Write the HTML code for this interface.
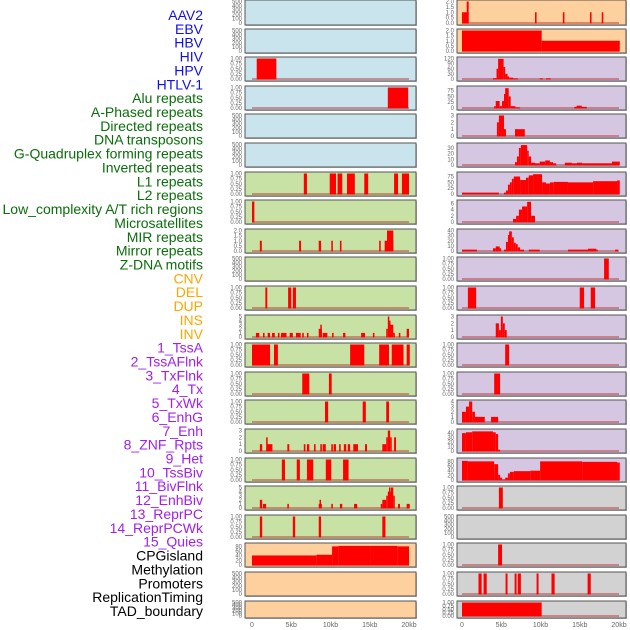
<!DOCTYPE html>
<html><head><meta charset="utf-8"><style>
html,body{margin:0;padding:0;background:#fff;width:630px;height:630px;overflow:hidden}
svg{display:block}
</style></head><body>
<svg id="chart" width="630" height="630" viewBox="0 0 630 630" xmlns="http://www.w3.org/2000/svg">
<g id="labels"></g>
<g id="panels"></g>
</svg>
<script>
const trackLabels = ["AAV2","EBV","HBV","HIV","HPV","HTLV-1","Alu repeats","A-Phased repeats","Directed repeats","DNA transposons","G-Quadruplex forming repeats","Inverted repeats","L1 repeats","L2 repeats","Low_complexity A/T rich regions","Microsatellites","MIR repeats","Mirror repeats","Z-DNA motifs","CNV","DEL","DUP","INS","INV","1_TssA","2_TssAFlnk","3_TxFlnk","4_Tx","5_TxWk","6_EnhG","7_Enh","8_ZNF_Rpts","9_Het","10_TssBiv","11_BivFlnk","12_EnhBiv","13_ReprPC","14_ReprPCWk","15_Quies","CPGisland","Methylation","Promoters","ReplicationTiming","TAD_boundary"];
const labelGroups = [6,13,5,15,5];
const groupColors = ["#1010ee","#0a6e0a","#ffa500","#a020f0","#000000"];
const xTickLabels = ["0","5kb","10kb","15kb","20kb"];
const xTickValues = [0,5,10,15,20];

const T500 = ["0","100","200","300","400","500"];
const T1 = ["0.00","0.25","0.50","0.75","1.00"];
const leftYMax = [500,500,1,1,500,500,1,1,2,500,1,5,1,1,1,3,1,5,1,88,500,500];
const leftTicks = [T500,T500,T1,T1,T500,T500,T1,T1,["0.0","0.5","1.0","1.5","2.0"],T500,T1,["0","1","2","3","4","5"],T1,T1,T1,["0","1","2","3"],T1,["0","1","2","3","4","5"],T1,["0","20","40","60","80"],T500,T500];
const leftBars = [
 [],[],
 [[0.6,3.1,1]],
 [[17.3,19.9,1]],
 [],[],
 [[6.6,7.0,1],[9.9,10.7,1],[10.9,11.5,1],[12.1,13.1,1],[14.3,14.8,1],[18.1,18.6,1],[19.1,20.0,1]],
 [[0,0.3,1]],
 [[1.0,1.25,1],[6.0,6.25,1],[8.5,8.8,1],[10.1,10.3,1],[11.2,11.4,1],[16.2,16.4,1],[16.9,18.0,1],[17.2,18.0,2]],
 [],
 [[1.7,1.95,1],[4.6,5.0,1],[5.2,5.6,1]],
 [[0.5,0.93,1],[1.4,1.6,1],[2.0,2.3,1],[2.55,2.9,1],[3.3,3.5,1],[3.7,4.4,1],[4.8,5.2,1],[5.6,6.2,1],[6.4,6.6,1],[7.0,7.2,1],[8.5,8.9,2],[8.7,8.8,3],[9.0,9.6,1],[10.2,10.4,1],[11.6,11.9,1],[13.9,14.4,1],[15.4,15.6,1],[17.1,17.3,2],[17.3,17.45,5],[17.45,17.6,4],[17.6,18.0,3],[18.0,18.2,1],[18.7,18.9,1],[19.7,20.0,2]],
 [[0,2.3,1],[2.8,3.3,1],[12.5,14.3,1],[16.2,17.45,1],[17.8,19.3,1],[19.7,20.1,1]],
 [[6.4,7.3,1],[9.8,10.15,1]],
 [[9.3,9.7,1],[14.1,14.5,1],[17.1,17.45,1]],
 [[1.0,1.3,1],[1.8,2.0,2],[1.9,2.6,1],[4.5,4.75,1],[6.6,6.8,1],[7.0,7.3,1],[7.9,8.1,1],[8.7,8.9,1],[9.0,9.4,1],[10.1,10.3,1],[10.4,10.7,1],[11.1,11.3,1],[11.7,12.0,1],[12.2,12.5,1],[12.9,13.5,1],[14.4,14.65,1],[16.6,17.1,1],[17.1,17.3,2],[17.3,17.6,3],[17.6,17.8,2],[18.1,18.35,2]],
 [[3.8,4.2,1],[5.7,6.1,1],[7.0,7.8,1],[9.4,10.1,1],[11.6,12.3,1]],
 [[1.0,1.3,2],[1.4,1.8,1],[4.5,4.7,1],[8.5,8.9,1],[8.6,8.75,2],[10.1,10.3,1],[11.2,11.5,1],[13.0,13.4,1],[16.4,16.6,1],[16.6,17.1,2],[17.1,17.3,3],[17.3,17.45,4],[17.45,17.6,5],[17.6,17.7,4],[17.7,18.0,5],[18.0,18.15,3],[18.6,18.85,1],[19.7,20.1,1]],
 [[1.0,1.3,1],[5.2,5.5,1],[8.5,8.8,1],[16.6,17.0,1]],
 [[0,8.2,41],[8.2,10.2,44],[10.2,11.0,80],[11.0,15.1,82],[15.1,18.5,82],[18.5,20.0,80]],
 [],[]
];

const rightYMax = [2,2,120,88,3,36,88,6.6,45,1,1,3,1,1,4,46,88,1,500,1,1,1];
const rightTicks = [["0.0","0.5","1.0","1.5","2.0"],["0.0","0.5","1.0","1.5","2.0"],["0","30","60","90","120"],["0","25","50","75"],["0","1","2","3"],["0","10","20","30"],["0","25","50","75"],["0","2","4","6"],["0","10","20","30","40"],T1,T1,["0","1","2","3"],T1,T1,["0","1","2","3","4"],["0","10","20","30","40"],["0","20","40","60","80"],T1,T500,T1,T1,T1];
const rightBars = [
 [[0,0.2,1],[0.2,0.85,1],[0.6,0.85,2],[9.3,9.5,1],[12.85,13.05,1],[16.3,16.5,1],[17.8,18.0,1]],
 [[0,10.15,2],[10.15,20.1,1]],
 [[3.95,4.4,5],[4.4,4.6,60],[4.6,5.3,118],[5.3,5.5,70],[5.5,5.8,30],[5.8,6.0,15],[6.0,6.5,8],[6.5,7.1,4],[9.9,10.3,4],[10.7,11.3,4]],
 [[4.1,4.3,8],[4.3,4.8,30],[4.8,5.1,8],[5.1,5.35,30],[5.35,5.5,60],[5.5,5.95,85],[5.95,6.2,50],[6.2,6.8,8],[6.8,7.4,3],[14.3,15.9,5],[14.6,15.25,10]],
 [[4.45,4.7,2],[4.7,5.35,3],[5.35,5.6,1],[6.75,8.0,1]],
 [[6.75,7.0,5],[7.0,7.25,15],[7.25,7.5,30],[7.5,8.3,35],[8.3,8.5,25],[8.5,8.8,15],[8.8,9.3,4],[9.3,9.9,3],[9.9,10.6,6],[10.6,11.2,8],[11.2,11.6,5],[11.6,12.0,3],[13.1,14.0,4],[14.0,14.65,3],[14.65,15.3,4],[15.3,19.1,3],[19.1,20.1,6]],
 [[0,4.7,6],[5.35,5.6,6],[5.6,5.85,15],[5.85,6.1,40],[6.1,6.35,50],[6.35,6.6,65],[6.6,7.4,75],[7.4,8.15,60],[8.15,8.5,70],[8.5,9.05,80],[9.05,10.2,85],[10.2,10.7,50],[10.7,11.2,45],[11.2,11.7,50],[11.7,13.5,52],[13.5,16.7,50],[16.7,19.75,55],[19.75,20.1,58]],
 [[6.5,6.9,1],[6.9,7.25,2],[7.25,7.65,4],[7.65,8.3,5],[8.3,8.8,6.5],[8.8,9.3,2]],
 [[0,1.9,3],[3.95,4.3,6],[4.3,4.8,10],[4.8,4.95,6],[5.35,5.6,3],[5.6,5.85,20],[5.85,6.0,35],[6.0,6.35,43],[6.35,6.6,30],[6.6,6.85,18],[6.85,7.1,15],[7.1,7.4,8],[7.4,7.9,3],[8.5,9.9,3],[13.5,16.05,3],[16.05,17.1,5],[17.1,17.2,3],[19.5,19.9,3]],
 [[18.1,18.7,1]],
 [[0.75,1.8,1],[15.0,15.55,1],[16.4,16.95,1]],
 [[4.3,4.7,2],[4.7,4.95,1],[4.95,5.2,3],[5.2,5.45,2],[5.45,5.7,1]],
 [[5.5,6.0,1]],
 [[4.1,4.85,1]],
 [[0,0.5,2],[0.5,0.9,3],[0.9,1.3,4],[1.3,1.65,2],[1.65,2.9,1],[3.7,4.6,1]],
 [[0,0.5,40],[0.5,1.3,42],[1.3,3.95,44],[3.95,4.3,42],[4.3,4.6,38],[4.6,4.85,3]],
 [[0,0.75,82],[0.75,4.1,80],[4.1,4.6,68],[4.6,4.85,22],[4.85,5.1,10],[5.1,5.5,2],[5.5,5.85,10],[5.85,6.1,28],[6.1,6.6,35],[6.6,8.7,38],[8.7,9.95,40],[9.95,15.3,80],[15.3,19.75,78],[19.75,20.1,75]],
 [[4.7,5.2,1]],
 [],
 [[4.6,5.1,1]],
 [[2.1,2.5,1],[2.75,3.15,1],[5.55,5.8,1],[6.7,6.95,1],[7.1,7.5,1],[9.5,9.75,1],[11.4,11.8,1],[16.0,16.4,1]],
 [[0,10.15,1]]
];

const NS = "http://www.w3.org/2000/svg";
function mk(tag, attrs, parent){const e=document.createElementNS(NS,tag);for(const k in attrs)e.setAttribute(k,attrs[k]);parent.appendChild(e);return e;}

// labels
const lg = document.getElementById('labels');
let li = 0;
labelGroups.forEach((n,g)=>{
  for(let j=0;j<n;j++){
    const t = mk('text',{x:203,y:15+13.86*li+5,'text-anchor':'end','font-family':'Liberation Sans, sans-serif','font-size':'14',fill:groupColors[g]},lg);
    t.textContent = trackLabels[li];
    
    
    li++;
  }
});

const pg = document.getElementById('panels');
const leftBg = i => i<6 ? '#c9e4ec' : (i<19 ? '#c8e2a5' : '#fed09e');
const rightBg = i => i<2 ? '#fed09e' : (i<17 ? '#d5c6e2' : '#d2d2d2');

function drawPanel(side, i, ymax, ticks, bars){
  const left = side==='left';
  const fx = left?245:457, fw = left?171:169, x0 = left?252:462;
  const xs = kb => x0 + kb*7.85;
  const top = Math.round(i*28.6), h = (i===21)?17:(i===0?25:24);
  const g = mk('g',{},pg);
  
  
  mk('rect',{x:fx+1,y:top+1,width:fw,height:h,fill:'#bbb'},g);
  mk('rect',{x:fx,y:top,width:fw,height:h,fill:left?leftBg(i):rightBg(i),stroke:'#555','stroke-width':1},g);
  const yTop = top+1.5, yBase = top+h-2;
  const ys = v => yBase - (v/ymax)*(yBase-yTop);
  // ticks
  ticks.forEach((lab,k)=>{
    const v = ymax===88||ymax===46||ymax===36||ymax===6.6 ? parseFloat(lab) : (k/(ticks.length-1))*ymax;
    const t = mk('text',{x:fx-3,y:ys(v)+2,'text-anchor':'end','font-family':'Liberation Sans, sans-serif','font-size':'6',fill:'#666'},g);
    t.textContent = lab;
    
    
  });
  if(bars.length){
    mk('line',{x1:xs(0),x2:xs(20),y1:yBase,y2:yBase,stroke:'rgba(190,40,40,0.6)','stroke-width':1.6},g);
  }
  bars.forEach(b=>{
    const r = mk('rect',{x:xs(b[0]),y:ys(b[2]),width:Math.max(1.5,xs(b[1])-xs(b[0])),height:yBase-ys(b[2])+0.5,fill:'#ff0000'},g);
    
    
  });
}
for(let i=0;i<22;i++){
  drawPanel('left', i, leftYMax[i], leftTicks[i], leftBars[i]);
  drawPanel('right', i, rightYMax[i], rightTicks[i], rightBars[i]);
}
// x axis
[252,462].forEach((x0,s)=>{
  xTickValues.forEach((v,k)=>{
    const t = mk('text',{x:x0+v*7.85,y:627,'text-anchor':'middle','font-family':'Liberation Sans, sans-serif','font-size':'7',fill:'#666'},pg);
    t.textContent = xTickLabels[k];
    
    
  });
});
</script>
</body></html>
